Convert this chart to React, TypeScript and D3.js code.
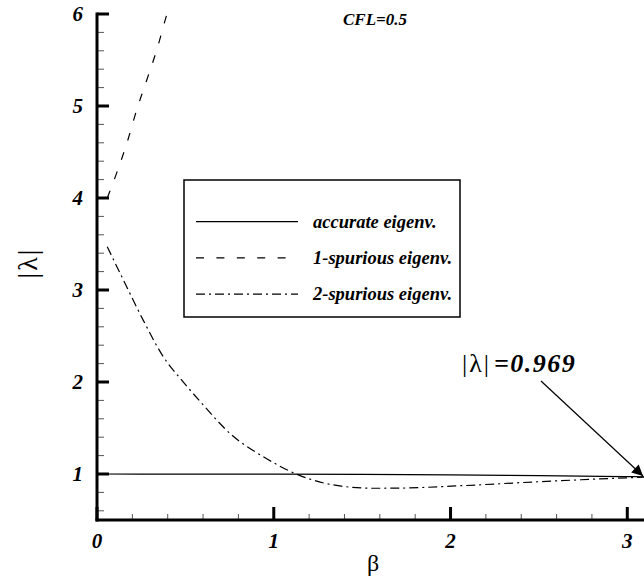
import React from "react";
import * as d3 from "d3";

const W = 644;
const H = 577;

const xTicks = [0, 1, 2, 3];
const yTicks = [1, 2, 3, 4, 5, 6];

const accurateBeta = [0, 0.5, 1.0, 1.5, 2.0, 2.5, 3.0, Math.PI];
const accurateVal = [1.0, 0.999, 0.998, 0.995, 0.99, 0.982, 0.972, 0.969];

const spur1Beta = [0.058, 0.111, 0.168, 0.225, 0.281, 0.338, 0.394, 0.4];
const spur1Val = [4.0, 4.27, 4.59, 4.96, 5.28, 5.61, 5.99, 6.03];

const spur2Beta = [0.058, 0.149, 0.262, 0.375, 0.479, 0.583, 0.762, 0.941, 1.139, 1.374, 1.563, 1.75, 2.03, 2.51, 3.07, Math.PI];
const spur2Val = [3.47, 3.11, 2.67, 2.275, 2.02, 1.79, 1.424, 1.188, 0.99, 0.87, 0.845, 0.848, 0.87, 0.917, 0.964, 0.969];

const legendLabels = ["accurate eigenv.", "1-spurious eigenv.", "2-spurious eigenv."];
const legendDash = ["none", "8,12.4", "9,4,2,4"];

export default function App() {
  const x = d3.scaleLinear().domain([0, 3]).range([97, 627.3]);
  const y = d3.scaleLinear().domain([0.5, 6]).range([520, 14]);

  const line = d3
    .line<[number, number]>()
    .x((d) => x(d[0]))
    .y((d) => y(d[1]))
    .curve(d3.curveMonotoneX);

  const series = [
    accurateBeta.map((b, i) => [b, accurateVal[i]] as [number, number]),
    spur1Beta.map((b, i) => [b, spur1Val[i]] as [number, number]),
    spur2Beta.map((b, i) => [b, spur2Val[i]] as [number, number]),
  ];

  const xMinor = d3.range(0.2, Math.PI, 0.2).filter((v) => Math.abs(v - Math.round(v)) > 1e-6);
  const yMinor = d3.range(0.6, 6.0, 0.2).filter((v) => Math.abs(v - Math.round(v)) > 1e-6);

  const serif = "'Liberation Serif', 'Times New Roman', serif";

  return (
    <svg width={W} height={H} style={{ position: "absolute", left: 0, top: 0, background: "#fff" }}>
      <defs>
        <clipPath id="plotClip">
          <rect x={97} y={y(6)} width={W - 97} height={y(0.5) - y(6)} />
        </clipPath>
        <marker id="arrowHead" viewBox="0 0 10 10" refX="10" refY="5" markerWidth="16" markerHeight="11" markerUnits="userSpaceOnUse" orient="auto">
          <path d="M0,0 L10,5 L0,10 z" fill="#000" />
        </marker>
      </defs>

      {/* curves */}
      <g clipPath="url(#plotClip)" fill="none" stroke="#000" strokeWidth={1.2}>
        {series.map((s, i) => (
          <path key={i} d={line(s) || ""} strokeDasharray={legendDash[i]} />
        ))}
      </g>

      {/* minor ticks */}
      <g stroke="#555" strokeWidth={1}>
        {yMinor.map((v) => (
          <line key={"ym" + v} x1={97} x2={104} y1={y(v)} y2={y(v)} />
        ))}
        {xMinor.map((v) => (
          <line key={"xm" + v} x1={x(v)} x2={x(v)} y1={520} y2={514} />
        ))}
      </g>
      {/* major ticks */}
      <g stroke="#000" strokeWidth={3}>
        {yTicks.map((v) => (
          <line key={"yM" + v} x1={97} x2={109} y1={y(v)} y2={y(v)} />
        ))}
        {xTicks.map((v) => (
          <line key={"xM" + v} x1={x(v)} x2={x(v)} y1={520} y2={507} />
        ))}
      </g>

      {/* axes */}
      <line x1={97} x2={97} y1={y(6) - 1.5} y2={521.5} stroke="#000" strokeWidth={3} />
      <line x1={95.5} x2={W} y1={520} y2={520} stroke="#000" strokeWidth={3} />

      {/* tick labels */}
      <g fontFamily={serif} fontWeight="bold" fontStyle="italic" fontSize={21} fill="#000">
        {yTicks.map((v) => (
          <text key={"yl" + v} x={83} y={y(v) + 7} textAnchor="end">
            {v}
          </text>
        ))}
        {xTicks.map((v) => (
          <text key={"xl" + v} x={x(v)} y={548} textAnchor="middle">
            {v}
          </text>
        ))}
      </g>

      {/* axis titles */}
      <text x={373} y={571} fontFamily={serif} fontSize={24} textAnchor="middle">
        β
      </text>
      <text transform="translate(37,263) rotate(-90)" fontFamily={serif} fontSize={28} textAnchor="middle" letterSpacing={2}>
        |λ|
      </text>

      {/* CFL */}
      <text x={375} y={25} fontFamily={serif} fontWeight="bold" fontStyle="italic" fontSize={17} textAnchor="middle">
        CFL=0.5
      </text>

      {/* legend */}
      <rect x={184} y={180} width={276} height={137} fill="#fff" stroke="#000" strokeWidth={1.5} />
      {legendLabels.map((lab, i) => {
        const ly = 221.7 + i * 36.2;
        return (
          <g key={lab}>
            <line x1={196} x2={298} y1={ly} y2={ly} stroke="#000" strokeWidth={1.3} strokeDasharray={legendDash[i]} />
            <text x={313} y={ly + 6} fontFamily={serif} fontWeight="bold" fontStyle="italic" fontSize={18.5}>
              {lab}
            </text>
          </g>
        );
      })}

      {/* annotation */}
      <text x={462} y={372} fontFamily={serif} fontSize={26}>
        <tspan letterSpacing={2}>|λ|</tspan>
        <tspan dx={3} fontWeight="bold" fontStyle="italic" letterSpacing={1.5}>=0.969</tspan>
      </text>
      <line x1={541} x2={643} y1={381} y2={476} stroke="#000" strokeWidth={1.2} markerEnd="url(#arrowHead)" />
    </svg>
  );
}
